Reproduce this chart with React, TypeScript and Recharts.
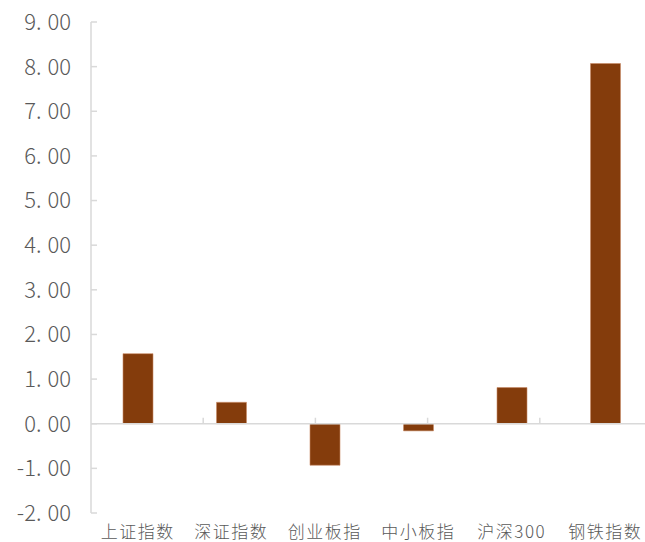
import React from "react";
import { BarChart, Bar, XAxis, YAxis, ReferenceLine } from "recharts";

// Index returns (%)
const categories = ["上证指数", "深证指数", "创业板指", "中小板指", "沪深300", "钢铁指数"];
const returns = [1.57, 0.48, -0.93, -0.16, 0.81, 8.07];
const yTicks = [-2, -1, 0, 1, 2, 3, 4, 5, 6, 7, 8, 9];
const boundaries = [1, 2, 3, 4, 5, 6];

const data = categories.map((name, i) => ({ name, value: returns[i] }));

const AXIS_GREY = "#d9d9d9";
const LABEL_GREY = "#595959";
const BAR_COLOR = "#843C0C";

// Y tick: label on the left, short tick mark pointing into the plot
const YTick = (props: any) => {
  const { x, y, payload } = props;
  const s = Number(payload.value).toFixed(2);
  const [intPart, dec] = s.split(".");
  return (
    <g>
      <line x1={x} y1={y} x2={x + 6} y2={y} stroke={AXIS_GREY} strokeWidth={1.5} />
      <text
        x={x - 20}
        y={y}
        dy="0.36em"
        textAnchor="end"
        fill={LABEL_GREY}
        fontSize={22}
        fontFamily="'Noto Sans CJK SC', 'Noto Sans', sans-serif"
        fontWeight={300}
      >
        <tspan>{intPart + "."}</tspan>
        <tspan dx={6}>{dec}</tspan>
      </text>
    </g>
  );
};

// Small upward tick on the zero line at each category boundary
const ZeroTick = (props: any) => {
  const { x1, y1 } = props;
  if (x1 == null || y1 == null) return null;
  return <line x1={x1} y1={y1} x2={x1} y2={y1 - 6} stroke={AXIS_GREY} strokeWidth={1.5} />;
};

export default function App() {
  return (
    <div
      style={{
        position: "fixed",
        left: 0,
        top: 0,
        width: 645,
        height: 542,
        overflow: "hidden",
        background: "#fff",
      }}
    >
      <BarChart
        width={660}
        height={542}
        data={data}
        margin={{ top: 22, right: 8, bottom: 0, left: 0 }}
      >
        <XAxis
          dataKey="name"
          axisLine={false}
          tickLine={false}
          tickSize={0}
          tickMargin={13}
          height={29}
          interval={0}
          tick={{
            fill: LABEL_GREY,
            fontSize: 17,
            letterSpacing: 1.5,
            fontFamily: "'Noto Sans CJK SC', sans-serif",
            fontWeight: 300,
          } as any}
        />
        <XAxis xAxisId="grid" type="number" domain={[0, 6]} hide />
        <YAxis
          type="number"
          domain={[-2, 9]}
          ticks={yTicks}
          interval={0}
          width={91}
          tickSize={0}
          tickMargin={0}
          tickLine={false}
          axisLine={{ stroke: AXIS_GREY, strokeWidth: 1.5 }}
          tick={<YTick />}
          allowDataOverflow
        />
        <ReferenceLine
          xAxisId="grid"
          segment={[{ x: 0, y: 0 }, { x: 6, y: 0 }]}
          stroke={AXIS_GREY}
          strokeWidth={1.5}
          ifOverflow="visible"
        />
        {boundaries.map((b) => (
          <ReferenceLine
            key={b}
            xAxisId="grid"
            segment={[{ x: b, y: 0 }, { x: b, y: 0 }]}
            shape={<ZeroTick />}
            ifOverflow="visible"
          />
        ))}
        <Bar
          dataKey="value"
          fill={BAR_COLOR}
          stroke="#c98b66"
          strokeWidth={0.6}
          barSize={30}
          isAnimationActive={false}
        />
      </BarChart>
    </div>
  );
}
